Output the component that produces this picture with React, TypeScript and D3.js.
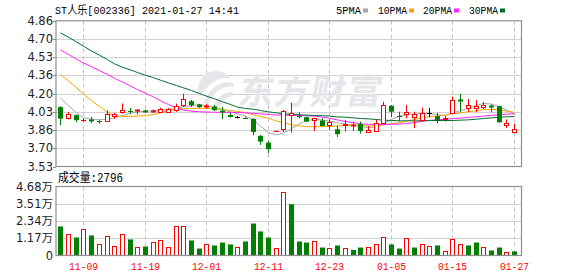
import React from "react";
import * as d3 from "d3";

const dates = [
  "11-04","11-05","11-06","11-09","11-10","11-11","11-12","11-13","11-16","11-17",
  "11-18","11-19","11-20","11-23","11-24","11-25","11-26","11-27","11-30","12-01",
  "12-02","12-03","12-04","12-07","12-08","12-09","12-10","12-11","12-14","12-15",
  "12-16","12-17","12-18","12-21","12-22","12-23","12-24","12-25","12-28","12-29",
  "12-30","12-31","01-04","01-05","01-06","01-07","01-08","01-11","01-12","01-13",
  "01-14","01-15","01-18","01-19","01-20","01-21","01-22","01-25","01-26","01-27",
];

const opens = [
  4.072,3.971,3.999,3.950,3.960,3.948,3.944,3.989,4.029,4.042,
  4.038,4.040,4.029,4.025,4.030,4.047,4.087,4.126,4.096,4.075,
  4.078,4.040,4.000,3.978,3.976,3.965,3.810,3.748,3.852,3.868,
  4.000,3.995,3.980,3.950,3.950,3.912,3.870,3.905,3.900,3.918,
  3.843,3.855,3.930,4.085,3.995,4.012,3.985,3.950,4.016,3.990,
  3.960,4.020,4.140,4.068,4.062,4.075,4.090,4.080,3.905,3.848,
];
const highs = [
  4.081,4.029,4.005,3.970,3.983,3.953,4.041,4.020,4.105,4.066,
  4.052,4.050,4.050,4.067,4.064,4.104,4.195,4.138,4.102,4.102,
  4.090,4.075,4.020,3.990,3.985,3.970,3.818,3.765,3.858,4.046,
  4.110,4.025,3.985,3.975,3.970,3.960,3.905,3.955,3.940,3.940,
  3.900,3.960,4.122,4.090,4.030,4.090,4.030,4.068,4.065,4.020,
  3.990,4.168,4.195,4.147,4.135,4.120,4.095,4.086,3.960,3.920,
];
const lows = [
  3.907,3.959,3.935,3.938,3.926,3.920,3.938,3.965,4.011,4.011,
  4.005,4.026,4.023,4.020,4.025,4.029,4.075,4.072,4.065,4.060,
  4.035,3.962,3.978,3.970,3.965,3.815,3.728,3.651,3.850,3.845,
  3.840,3.970,3.935,3.855,3.898,3.865,3.800,3.850,3.855,3.830,
  3.840,3.853,3.925,3.980,3.940,3.970,3.880,3.940,3.980,3.925,
  3.940,4.015,4.030,4.030,4.025,4.055,4.025,3.930,3.880,3.840,
];
const closes = [
  3.968,4.012,3.953,3.955,3.942,3.945,4.009,4.011,4.047,4.038,
  4.046,4.032,4.040,4.053,4.053,4.082,4.148,4.090,4.072,4.083,
  4.044,4.025,3.982,3.978,3.972,3.845,3.757,3.688,3.856,4.040,
  4.020,3.990,3.940,3.970,3.900,3.940,3.825,3.920,3.910,3.855,
  3.866,3.925,4.090,4.030,3.990,4.030,4.010,4.015,4.016,3.955,
  3.975,4.137,4.130,4.092,4.083,4.090,4.080,3.934,3.925,3.870,
];

const ma5 = [
  4.155,4.085,4.020,3.975,3.962,3.958,3.958,3.975,3.995,4.015,
  4.028,4.035,4.040,4.045,4.050,4.060,4.075,4.085,4.095,4.085,
  4.068,4.050,4.030,4.010,3.990,3.955,3.900,3.840,3.818,3.835,
  3.875,3.920,3.950,3.960,3.955,3.945,3.930,3.915,3.905,3.895,
  3.885,3.890,3.920,3.960,3.990,4.000,4.010,4.015,4.015,4.000,
  3.995,4.020,4.040,4.060,4.090,4.105,4.100,4.075,4.045,4.010,
];
const ma10 = [
  4.369,4.310,4.250,4.190,4.130,4.078,4.025,3.990,3.988,3.988,
  3.990,3.995,4.003,4.020,4.040,4.050,4.057,4.060,4.062,4.060,
  4.056,4.050,4.041,4.032,4.023,4.000,3.985,3.970,3.945,3.930,
  3.910,3.900,3.895,3.893,3.893,3.895,3.900,3.905,3.908,3.905,
  3.900,3.903,3.910,3.920,3.930,3.945,3.960,3.975,3.985,3.990,
  4.000,4.012,4.020,4.030,4.040,4.050,4.052,4.045,4.035,4.025,
];
const ma20 = [
  4.595,4.552,4.510,4.475,4.440,4.405,4.370,4.335,4.300,4.265,
  4.232,4.198,4.165,4.130,4.095,4.065,4.045,4.035,4.030,4.027,
  4.025,4.025,4.024,4.022,4.020,4.015,4.010,4.005,4.000,3.998,
  3.997,3.996,3.993,3.990,3.980,3.970,3.955,3.940,3.930,3.920,
  3.915,3.913,3.913,3.915,3.918,3.922,3.930,3.945,3.950,3.957,
  3.962,3.967,3.972,3.978,3.984,3.990,3.996,4.002,4.007,4.011,
];
const ma30 = [
  4.749,4.710,4.667,4.628,4.585,4.546,4.506,4.467,4.436,4.412,
  4.388,4.363,4.341,4.318,4.293,4.269,4.248,4.224,4.196,4.172,
  4.148,4.120,4.096,4.072,4.060,4.053,4.041,4.029,4.020,4.011,
  4.005,4.002,3.999,3.996,3.993,3.990,3.983,3.980,3.974,3.968,
  3.965,3.959,3.953,3.950,3.947,3.947,3.947,3.947,3.950,3.950,
  3.950,3.950,3.953,3.956,3.962,3.968,3.974,3.980,3.983,3.986,
];

// volume in 万
const volumes = [
  1.97,1.47,1.22,1.81,1.36,0.81,1.33,0.66,1.47,1.09,
  0.59,0.61,0.93,1.06,0.59,2.01,2.01,1.02,0.47,0.79,
  0.68,0.88,0.75,0.59,0.95,2.17,1.63,1.22,0.52,4.32,
  3.48,0.95,0.88,0.95,0.54,0.54,0.68,0.54,0.38,0.54,
  0.59,0.75,1.27,0.75,0.47,1.20,0.54,0.81,0.66,0.68,
  0.32,1.13,0.75,0.68,0.88,0.61,0.34,0.54,0.25,0.28,
];
// 1 = up (red hollow), 0 = down (green)
const volUp = [
  0,1,0,1,0,1,1,1,1,0,
  1,0,1,1,1,1,1,0,0,1,
  0,0,0,1,0,0,0,0,1,1,
  0,0,0,1,0,1,0,1,0,0,
  1,1,1,0,0,1,0,1,1,0,
  1,1,1,0,0,1,0,0,1,0,
];

const priceTickLabels = ["4.86","4.70","4.53","4.36","4.20","4.03","3.86","3.70","3.53"];
const volTickLabels = ["4.68万","3.51万","2.34万","1.17万","0"];
const volTickValues = [4.68, 3.51, 2.34, 1.17, 0];
const dateTicks = ["11-09","11-19","12-01","12-11","12-23","01-05","01-15","01-27"];
const maNames = ["5PMA","10PMA","20PMA","30PMA"];
const maColors = ["#a6a6a6","#f5a500","#ff22ff","#00702e"];

const RED = "#ff0000";
const GREEN = "#008000";

const L = 56, R = 521.5;
const pTop = 20.8, pBot = 166.5;
const vTop = 186.5, vBot = 255.5;
const pMin = 3.53, pMax = 4.86;

export default function App() {
  const x = d3.scalePoint<string>().domain(dates).range([60.4, 514]);
  const yP = d3.scaleLinear().domain([pMin, pMax]).range([pBot, pTop]);
  const yV = d3.scaleLinear().domain([0, 4.68]).range([vBot, vTop]);
  const px = (d: string) => Math.round(x(d) as number);
  const priceTickValues = priceTickLabels.map((_, k) => pMax - (k * (pMax - pMin)) / 8);

  const mas = [ma5, ma10, ma20, ma30];
  const line = (arr: number[]) =>
    d3.line<number>().x((_, i) => px(dates[i]) + 0.5).y((v) => yP(v))(arr) || "";

  const mono = "'Liberation Mono','DejaVu Sans Mono','Noto Sans CJK SC',monospace";
  const sans = "'DejaVu Sans','Noto Sans CJK SC',sans-serif";

  return (
    <svg width={578} height={276} style={{ position: "absolute", left: 0, top: 0, background: "#fff" }}
      xmlns="http://www.w3.org/2000/svg">
      <rect x={0} y={0} width={578} height={276} fill="#fff" />
      {/* title */}
      <text x={55} y={14} fontFamily={mono} fontSize={11.5} fill="#000" textLength={184} lengthAdjust="spacingAndGlyphs">
        ST人乐[002336] 2021-01-27 14:41
      </text>
      {/* legend */}
      {maNames.map((n, k) => {
        const xs = [336, 378, 423, 469][k];
        const w = [25, 29, 29, 29][k];
        return (
          <g key={n}>
            <text x={xs} y={14} fontFamily={mono} fontSize={11.5} fill="#000" textLength={w} lengthAdjust="spacingAndGlyphs">{n}</text>
            <rect x={xs + w + 2} y={8.5} width={5} height={4} fill={maColors[k]} />
          </g>
        );
      })}

      {/* price gridlines */}
      {priceTickValues.slice(1, -1).map((v, k) => (
        <line key={"hg" + k} x1={L} x2={R} y1={Math.round(yP(v)) + 0.5} y2={Math.round(yP(v)) + 0.5} stroke="#d2d2d2" strokeWidth={1} />
      ))}
      {dateTicks.map((d) => (
        <line key={"vg" + d} x1={px(d) + 0.5} x2={px(d) + 0.5} y1={pTop} y2={pBot} stroke="#c4c4c4" strokeDasharray="4,3" />
      ))}

      {/* watermark */}
      <g>
        <g transform="translate(216,89)">
          <circle r={18} fill="#e6e6ea" />
          <path d="M -16 8 C -8 -6, 4 -14, 17 -10 L 17 -6 C 6 -9, -6 -2, -12 13 Z" fill="#fff" />
          <path d="M -8 16 C -2 2, 8 -4, 18 -2 L 18 3 C 9 2, 1 7, -3 18 Z" fill="#fff" />
          <path d="M 4 18 C 7 10, 12 7, 18 7 L 17 11 C 13 12, 10 14, 8 18 Z" fill="#fff" />
        </g>
        <g transform="translate(237,104) skewX(-10)">
          <text x={0} y={0} fontFamily="'Noto Sans CJK SC',sans-serif" fontWeight={700} fontSize={35} fill="#e6e6ea" letterSpacing={1}>
            东方财富
          </text>
        </g>
      </g>

      {/* moving averages */}
      {mas.map((m, k) => (
        <path key={"ma" + k} d={line(m)} fill="none" stroke={maColors[k]} strokeWidth={1} />
      ))}

      {/* candles */}
      {dates.map((d, i) => {
        const o = opens[i], c = closes[i], h = highs[i], l = lows[i];
        const cx = px(d);
        const color = c > o ? RED : c < o ? GREEN : "#000";
        const yt = yP(Math.max(o, c));
        const yb = yP(Math.min(o, c));
        const yh = yP(h), yl = yP(l);
        const bh = yb - yt;
        if (bh < 1.5) {
          const ym = Math.round((yt + yb) / 2) + 0.5;
          return (
            <g key={"c" + i}>
              <line x1={cx + 0.5} x2={cx + 0.5} y1={yh} y2={yl} stroke={color} />
              <line x1={cx - 2} x2={cx + 3} y1={ym} y2={ym} stroke={color} strokeWidth={bh > 0.8 ? 2 : 1} />
            </g>
          );
        }
        if (c > o) {
          const t = Math.round(yt) + 0.5;
          const b = Math.round(yb) + 0.5;
          return (
            <g key={"c" + i}>
              <line x1={cx + 0.5} x2={cx + 0.5} y1={yh} y2={t} stroke={color} />
              <line x1={cx + 0.5} x2={cx + 0.5} y1={b} y2={yl} stroke={color} />
              <rect x={cx - 1.5} y={t} width={4} height={Math.max(1, b - t)} fill="#fff" stroke={color} />
            </g>
          );
        }
        return (
          <g key={"c" + i}>
            <line x1={cx + 0.5} x2={cx + 0.5} y1={yh} y2={yl} stroke={color} />
            <rect x={cx - 2} y={yt} width={5} height={bh} fill={color} />
          </g>
        );
      })}

      {/* price frame */}
      <rect x={L} y={pTop} width={R - L} height={pBot - pTop} fill="none" stroke="#8f8f8f" strokeWidth={1.2} />
      {priceTickValues.map((v, k) => (
        <g key={"pt" + k}>
          <line x1={L - 3} x2={L} y1={Math.round(yP(v)) + 0.5} y2={Math.round(yP(v)) + 0.5} stroke="#8f8f8f" />
          <text x={L - 3} y={yP(v) + 4} textAnchor="end" fontFamily={sans} fontSize={11.5} fill="#1e1e28">
            {priceTickLabels[k]}
          </text>
        </g>
      ))}

      {/* volume panel */}
      <text x={58} y={182} fontFamily={mono} fontSize={12} fill="#000" textLength={65} lengthAdjust="spacingAndGlyphs">成交量:2796</text>
      {volTickValues.slice(1, -1).map((v, k) => (
        <line key={"vh" + k} x1={L} x2={R} y1={Math.round(yV(v)) + 0.5} y2={Math.round(yV(v)) + 0.5} stroke="#d2d2d2" />
      ))}
      {dateTicks.map((d) => (
        <line key={"vv" + d} x1={px(d) + 0.5} x2={px(d) + 0.5} y1={vTop} y2={vBot} stroke="#c4c4c4" strokeDasharray="4,3" />
      ))}
      {dates.map((d, i) => {
        const cx = px(d);
        const top = yV(volumes[i]);
        if (volUp[i]) {
          const t = Math.round(top) + 0.5;
          return <rect key={"v" + i} x={cx - 1.5} y={t} width={4} height={vBot - t} fill="#fff" stroke={RED} />;
        }
        return <rect key={"v" + i} x={cx - 2} y={top} width={5} height={vBot - top} fill={GREEN} />;
      })}
      <rect x={L} y={vTop} width={R - L} height={vBot - vTop} fill="none" stroke="#8f8f8f" strokeWidth={1.2} />
      {volTickValues.map((v, k) => (
        <text key={"vt" + k} x={L - 3} y={yV(v) + 4} textAnchor="end" fontFamily={sans} fontSize={11.5} fill="#1e1e28">
          {volTickLabels[k]}
        </text>
      ))}
      {dateTicks.map((d) => (
        <text key={"dl" + d} x={px(d) + 0.5} y={270} textAnchor="middle" fontFamily={mono} fontSize={11.5} fill={RED}
          textLength={29} lengthAdjust="spacingAndGlyphs">
          {d}
        </text>
      ))}
    </svg>
  );
}
